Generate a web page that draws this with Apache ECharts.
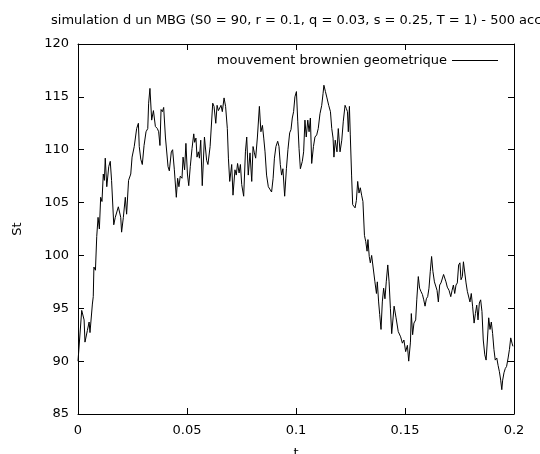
<!DOCTYPE html>
<html>
<head>
<meta charset="utf-8">
<script src="https://cdn.jsdelivr.net/npm/echarts@6/dist/echarts.min.js"></script>
<style>
  html, body { margin: 0; padding: 0; background: #fff; }
</style>
</head>
<body>
<div id="main" style="width: 540px; height: 454px"></div>
<script>
// trajectoire (t, St)
var times = [
  0, 0.0017, 0.0028, 0.0032, 0.0043, 0.0051, 0.0055, 0.0066, 0.0070, 0.0073,
  0.0080, 0.0086, 0.0092, 0.0098, 0.0104, 0.0110, 0.0116, 0.0121, 0.0125, 0.0132,
  0.0141, 0.0148, 0.0154, 0.0164, 0.0171, 0.0185, 0.0196, 0.0200, 0.0208, 0.0217,
  0.0223, 0.0232, 0.0242, 0.0248, 0.0258, 0.0269, 0.0277, 0.0281, 0.0288, 0.0295,
  0.0303, 0.0312, 0.0320, 0.0324, 0.0330, 0.0338, 0.0346, 0.0355, 0.0364, 0.0370,
  0.0376, 0.0381, 0.0387, 0.0393, 0.0401, 0.0407, 0.0413, 0.0419, 0.0428, 0.0434,
  0.0442, 0.0451, 0.0457, 0.0463, 0.0469, 0.0477, 0.0482, 0.0489, 0.0495, 0.0502,
  0.0508, 0.0515, 0.0523, 0.0531, 0.0535, 0.0541, 0.0546, 0.0552, 0.0557, 0.0563,
  0.0570, 0.0580, 0.0590, 0.0596, 0.0606, 0.0618, 0.0624, 0.0632, 0.0638, 0.0644,
  0.0647, 0.0656, 0.0662, 0.0670, 0.0677, 0.0685, 0.0690, 0.0696, 0.0705, 0.0711,
  0.0720, 0.0726, 0.0732, 0.0739, 0.0745, 0.0751, 0.0760, 0.0768, 0.0774, 0.0781,
  0.0789, 0.0797, 0.0803, 0.0809, 0.0815, 0.0823, 0.0832, 0.0839, 0.0846, 0.0852,
  0.0858, 0.0865, 0.0873, 0.0882, 0.0888, 0.0895, 0.0901, 0.0908, 0.0916, 0.0922,
  0.0928, 0.0934, 0.0940, 0.0948, 0.0956, 0.0963, 0.0971, 0.0977, 0.0983, 0.0989,
  0.0995, 0.1002, 0.1008, 0.1014, 0.1020, 0.1029, 0.1035, 0.1041, 0.1047, 0.1054,
  0.1060, 0.1066, 0.1072, 0.1080, 0.1087, 0.1095, 0.1102, 0.1110, 0.1118, 0.1124,
  0.1128, 0.1135, 0.1142, 0.1150, 0.1158, 0.1164, 0.1170, 0.1174, 0.1180, 0.1188,
  0.1194, 0.1202, 0.1210, 0.1217, 0.1225, 0.1231, 0.1236, 0.1240, 0.1245, 0.1249,
  0.1255, 0.1260, 0.1266, 0.1271, 0.1277, 0.1283, 0.1289, 0.1295, 0.1301, 0.1307,
  0.1314, 0.1320, 0.1326, 0.1330, 0.1336, 0.1341, 0.1347, 0.1355, 0.1362, 0.1369,
  0.1373, 0.1379, 0.1384, 0.1390, 0.1396, 0.1402, 0.1408, 0.1414, 0.1421, 0.1427,
  0.1433, 0.1439, 0.1450, 0.1459, 0.1469, 0.1480, 0.1488, 0.1495, 0.1503, 0.1511,
  0.1517, 0.1525, 0.1529, 0.1535, 0.1541, 0.1549, 0.1554, 0.1561, 0.1567, 0.1573,
  0.1580, 0.1586, 0.1592, 0.1598, 0.1604, 0.1610, 0.1616, 0.1622, 0.1628, 0.1635,
  0.1641, 0.1647, 0.1653, 0.1659, 0.1665, 0.1671, 0.1677, 0.1684, 0.1688, 0.1694,
  0.1702, 0.1710, 0.1716, 0.1722, 0.1728, 0.1734, 0.1740, 0.1746, 0.1752, 0.1757,
  0.1763, 0.1768, 0.1774, 0.1780, 0.1786, 0.1792, 0.1798, 0.1804, 0.1810, 0.1817,
  0.1823, 0.1829, 0.1835, 0.1841, 0.1847, 0.1853, 0.1859, 0.1866, 0.1872, 0.1878,
  0.1884, 0.1890, 0.1896, 0.1902, 0.1908, 0.1914, 0.1921, 0.1927, 0.1933, 0.1939,
  0.1944, 0.1948, 0.1954, 0.1960, 0.1966, 0.1973, 0.1979, 0.1985, 0.1991, 0.1995
]
var prices = [
  90.0, 94.8, 93.9, 91.8, 92.9, 93.7, 92.7, 95.4, 96.1, 98.9,
  98.6, 101.8, 103.6, 102.5, 105.5, 105.1, 107.7, 107.1, 109.2, 106.5,
  108.4, 108.9, 107.1, 102.9, 103.6, 104.6, 103.6, 102.2, 103.6, 105.5,
  103.9, 107.1, 107.7, 109.3, 110.3, 112.0, 112.5, 110.3, 109.1, 108.6,
  110.4, 111.7, 112.0, 114.4, 115.8, 112.8, 113.7, 112.2, 112.0, 111.7,
  110.4, 113.8, 113.6, 114.0, 111.2, 111.1, 108.4, 108.0, 109.8, 110.0,
  108.1, 105.5, 107.3, 106.5, 107.5, 107.3, 109.3, 108.1, 110.6, 107.7,
  106.6, 108.4, 110.1, 111.5, 110.7, 111.1, 109.3, 109.8, 109.2, 110.9,
  106.6, 111.2, 109.0, 108.6, 110.3, 114.4, 114.1, 112.5, 114.2, 113.7,
  113.8, 114.2, 113.6, 114.9, 114.1, 112.0, 109.2, 107.0, 108.6, 105.7,
  108.1, 107.6, 108.7, 107.8, 108.6, 106.7, 105.6, 109.8, 111.2, 107.6,
  109.7, 107.0, 110.3, 109.7, 109.2, 111.2, 114.1, 111.7, 112.3, 111.1,
  109.8, 107.6, 106.5, 106.2, 106.0, 107.3, 109.2, 110.3, 110.8, 110.3,
  108.6, 107.6, 108.2, 105.6, 108.2, 110.0, 111.6, 111.9, 113.0, 113.6,
  115.0, 115.5, 112.7, 110.1, 108.2, 108.9, 109.8, 112.8, 111.2, 112.8,
  111.7, 113.0, 108.7, 110.3, 111.2, 111.4, 112.0, 113.4, 114.2, 115.3,
  116.1, 115.5, 114.9, 114.2, 113.6, 112.0, 111.1, 109.3, 110.9, 109.8,
  112.0, 109.8, 110.9, 112.7, 114.2, 113.9, 113.6, 111.7, 114.1, 111.4,
  107.6, 104.8, 104.9, 104.5, 105.2, 107.0, 105.9, 106.4, 105.7, 105.1,
  101.9, 101.3, 100.4, 101.5, 99.9, 99.3, 100.0, 99.9, 97.5, 96.4,
  97.5, 95.6, 94.4, 93.0, 95.6, 96.9, 95.9, 97.5, 99.1, 97.5,
  95.0, 92.6, 95.2, 94.1, 92.8, 92.3, 91.7, 92.0, 90.9, 91.5,
  90.0, 91.8, 94.5, 92.5, 93.6, 93.9, 95.8, 98.0, 96.9, 96.6,
  96.3, 95.8, 95.2, 95.9, 96.1, 96.9, 98.5, 99.9, 98.5, 97.5,
  97.4, 96.7, 95.6, 97.2, 97.4, 97.5, 98.2, 98.3, 97.5, 97.0,
  96.7, 96.1, 96.7, 97.2, 96.4, 97.2, 97.4, 99.1, 99.3, 97.7,
  98.0, 99.4, 99.3, 97.4, 96.6, 96.7, 95.6, 96.4, 95.2, 93.6,
  94.5, 95.3, 93.9, 95.5, 95.8, 94.7, 92.0, 90.6, 90.1, 92.0,
  94.1, 93.0, 93.7, 92.6, 91.1, 90.1, 90.3, 89.6, 89.0, 88.2,
  87.3, 88.2, 88.9, 89.3, 89.5, 90.3, 91.1, 92.2, 91.7, 91.4
]
var titleText = 'simulation d un MBG (S0 = 90, r = 0.1, q = 0.03, s = 0.25, T = 1) - 500 acc'
var seriesName = 'mouvement brownien geometrique'

var points = times.map(function(t, i) { return [t, prices[i]] })

var font = 'DejaVu Sans'
var axisLine = { show: true, onZero: false, lineStyle: { color: '#000', width: 1 } }
var axisTick = { show: true, inside: true, length: 6, lineStyle: { color: '#000', width: 1 } }

var myChart = echarts.init(document.getElementById('main'))
var option = {
  animation: false,
  backgroundColor: '#fff',
  title: {
    text: titleText,
    left: 51,
    top: 14,
    padding: 0,
    textAlign: 'left',
    textStyle: { fontFamily: font, fontSize: 13, fontWeight: 'normal', color: '#000' }
  },
  legend: {
    data: [{ name: seriesName, icon: 'rect' }],
    right: 42,
    top: 54,
    padding: 0,
    align: 'right',
    itemWidth: 46,
    itemHeight: 1,
    textStyle: { fontFamily: font, fontSize: 13, color: '#000' }
  },
  grid: { left: 78, right: 26, top: 44, bottom: 40, outerBoundsMode: 'none' },
  xAxis: [
    {
      type: 'value', min: 0, max: 0.2, interval: 0.05,
      name: 't', nameLocation: 'middle', nameGap: 33,
      nameTextStyle: { fontFamily: font, fontSize: 13, color: '#000' },
      axisLine: axisLine, axisTick: axisTick, splitLine: { show: false },
      axisLabel: { fontFamily: font, fontSize: 13, color: '#000', margin: 10 }
    },
    {
      type: 'value', min: 0, max: 0.2, interval: 0.05, position: 'top',
      axisLine: axisLine, axisTick: axisTick, splitLine: { show: false },
      axisLabel: { show: false }
    }
  ],
  yAxis: [
    {
      type: 'value', min: 85, max: 120, interval: 5,
      name: 'St', nameLocation: 'middle', nameGap: 54, nameRotate: 90,
      nameTextStyle: { fontFamily: font, fontSize: 13, color: '#000' },
      axisLine: axisLine, axisTick: axisTick, splitLine: { show: false },
      axisLabel: { fontFamily: font, fontSize: 13, color: '#000', margin: 9 }
    },
    {
      type: 'value', min: 85, max: 120, interval: 5, position: 'right',
      axisLine: axisLine, axisTick: axisTick, splitLine: { show: false },
      axisLabel: { show: false }
    }
  ],
  series: [
    {
      name: seriesName,
      type: 'line',
      data: points,
      showSymbol: false,
      symbol: 'none',
      clip: true,
      color: '#000',
      lineStyle: { color: '#000', width: 1 }
    }
  ]
}
myChart.setOption(option)
</script>
</body>
</html>
